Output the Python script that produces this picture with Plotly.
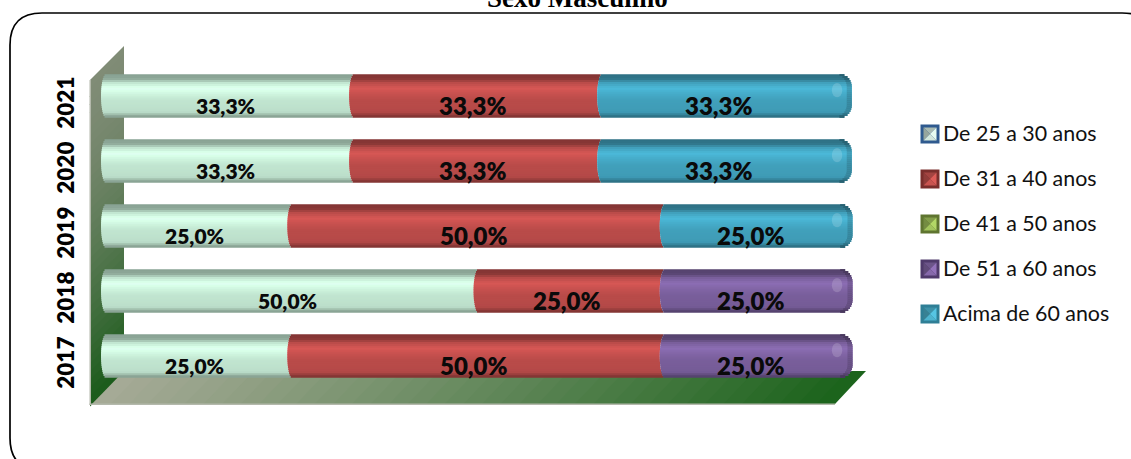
import plotly.graph_objects as go
import math

W, H = 1131, 459
years = ["2017", "2018", "2019", "2020", "2021"]
names = ["De 25 a 30 anos", "De 31 a 40 anos", "De 41 a 50 anos", "De 51 a 60 anos", "Acima de 60 anos"]
s1 = [25.0, 50.0, 25.0, 33.3, 33.3]
s2 = [50.0, 25.0, 50.0, 33.3, 33.3]
s3 = [0, 0, 0, 0, 0]
s4 = [25.0, 25.0, 0, 0, 0]
s5 = [0, 0, 25.0, 33.3, 33.3]
series = [s1, s2, s3, s4, s5]
bar_colors = ["#ccf2dc", "#c4504e", "#9bbb59", "#8064a4", "#45a9c6"]
swatch_colors = ["#c9dcd2", "#c0504d", "#9bbb59", "#8064a2", "#4bacc6"]
swatch_edges = ["#2f5a8f", "#7a2e2c", "#5f7530", "#4f3a6b", "#2f7f96"]
label_sizes = [21, 24, 24, 24, 24]
label_xshift = [0, 0, 0, -2, -2]

X0, XPX = 101, 7.45          # pixel of 0 %, pixels per 1 %
Y_2017, Y_PITCH = 356, 65    # pixel of centre of first bar, pixels between bars
DOM_L, DOM_R, DOM_T, DOM_B = 101, 870, 40, 400
BAR_PX = 43
def px(x): return x / W
def py(y): return 1 - y / H

fig = go.Figure()

def shade(col, f):
    r, g, b = int(col[1:3], 16), int(col[3:5], 16), int(col[5:7], 16)
    return f"rgb({min(255, int(r * f))},{min(255, int(g * f))},{min(255, int(b * f))})"

def profile(t):
    pts = [(0, .72), (.03, .66), (.12, .72), (.2, .95), (.33, 1.1), (.45, 1.02), (.6, .95), (.88, .92), (.93, .8), (1, .62)]
    for (a, fa), (b, fb) in zip(pts, pts[1:]):
        if a <= t <= b:
            return fa + (fb - fa) * (t - a) / (b - a)
    return 1

N = 22
for si, vals in enumerate(series):
    bases = [sum(series[k][i] for k in range(si)) for i in range(5)]
    last = [vals[i] > 0 and all(series[j][i] == 0 for j in range(si + 1, 5)) for i in range(5)]
    for b in range(N):
        t = (b + .5) / N
        k = 5 * (1 - math.sqrt(max(0, 1 - (2 * t - 1) ** 2))) / XPX
        u = max(0, (abs(2 * t - 1) - .42) / .58)
        cap_end = (6.5 - 12 * (1 - math.sqrt(max(0, 1 - u ** 2)))) / XPX
        width = (BAR_PX / N + .7) / Y_PITCH
        offset = (t - .5) * -BAR_PX / Y_PITCH - width / 2
        xs, basex = [], []
        for i in range(5):
            end = vals[i] + (cap_end if last[i] else k)
            xs.append(end - k if vals[i] > 0 else 0)
            basex.append(bases[i] + k)
        color = shade(bar_colors[si], profile(t))
        fig.add_trace(go.Bar(y=years, x=xs, base=basex, orientation="h", width=width, offset=offset,
                             marker=dict(color=color, line_width=0), showlegend=False, hoverinfo="skip", name=names[si]))
        if any(last):
            # darker rim on the rounded end of the stack
            rim = 5 / XPX
            fig.add_trace(go.Bar(
                y=years,
                x=[rim if last[i] else 0 for i in range(5)],
                base=[bases[i] + vals[i] + cap_end - rim for i in range(5)],
                orientation="h", width=width, offset=offset,
                marker=dict(color=shade(bar_colors[si], profile(t) * .85), line_width=0),
                showlegend=False, hoverinfo="skip", name=names[si]))

shapes = []
def poly(pts, color, layer="below"):
    d = "M" + " L".join(f"{px(x):.5f},{py(y):.5f}" for x, y in pts) + " Z"
    shapes.append(dict(type="path", xref="paper", yref="paper", path=d, fillcolor=color, line_width=0, layer=layer))

def mix(a, b, t):
    return "rgb(%d,%d,%d)" % tuple(a[i] + (b[i] - a[i]) * t for i in range(3))

DARK = (28, 92, 28)
n = 40
# back wall (left), graded top to bottom
for i in range(n):
    a, b = i / n, (i + 1.3) / n
    t = i / (n - 1)
    poly([(90, 80 + 324 * a), (124, 46 + 325 * a), (124, 46 + 325 * b), (90, 80 + 324 * b)],
         mix((128, 140, 118), DARK, min(1, t ** 1.5)))
# floor, graded left to right
for i in range(n):
    a, b = i / n, min(1, (i + 1.3) / n)
    t = i / (n - 1)
    poly([(92 + 743 * a, 404), (124 + 742 * a, 371), (124 + 742 * b, 371), (92 + 743 * b, 404)],
         mix((165, 170, 150), (28, 100, 28), t ** 1.1))
# thin pale edges of wall and floor
poly([(89.5, 80), (91, 80), (91, 405), (89.5, 405)], "#b4b9ac")
poly([(89.5, 403.5), (835, 403.5), (835, 405), (89.5, 405)], "#b4b9ac")

# outer rounded frame, cut by the window on the right and at the bottom
R = 32
fx0, fy0, fx1, fy1 = 10, 13, 1154, 470
frame = (f"M{px(fx1 - R)},{py(fy1)} L{px(fx0 + R)},{py(fy1)} Q{px(fx0)},{py(fy1)} {px(fx0)},{py(fy1 - R)} "
         f"L{px(fx0)},{py(fy0 + R)} Q{px(fx0)},{py(fy0)} {px(fx0 + R)},{py(fy0)} "
         f"L{px(fx1 - R)},{py(fy0)} Q{px(fx1)},{py(fy0)} {px(fx1)},{py(fy0 + R)}")
shapes.append(dict(type="path", xref="paper", yref="paper", path=frame, line=dict(color="#000", width=1.7), layer="below"))

annotations = []
# legend swatches and texts
for i, name in enumerate(names):
    yc = 134 + 45 * i
    xc = 930
    h, m = 9.5, 6.5
    poly([(xc - h, yc - h), (xc + h, yc - h), (xc + h, yc + h), (xc - h, yc + h)], swatch_edges[i], "above")
    poly([(xc - m, yc - m), (xc + m, yc - m), (xc, yc)], shade(swatch_colors[i], .85), "above")
    poly([(xc - m, yc - m), (xc, yc), (xc - m, yc + m)], shade(swatch_colors[i], .75), "above")
    poly([(xc + m, yc - m), (xc + m, yc + m), (xc, yc)], shade(swatch_colors[i], 1.15), "above")
    poly([(xc - m, yc + m), (xc + m, yc + m), (xc, yc)], shade(swatch_colors[i], 1.05), "above")
    annotations.append(dict(xref="paper", yref="paper", x=px(941), y=py(yc - 1), text=name, showarrow=False,
                            xanchor="left", yanchor="middle", font=dict(family="Lato", size=21.4, color="#111")))

# data labels
for si, vals in enumerate(series):
    for i, v in enumerate(vals):
        if v > 0:
            base = sum(series[k][i] for k in range(si))
            txt = f"{v:.1f}".replace(".", ",") + "%"
            annotations.append(dict(xref="x", yref="y", x=base + v / 2, y=i, text=txt, showarrow=False,
                                    yshift=-9, xshift=label_xshift[si],
                                    font=dict(family="Lato", size=label_sizes[si], color="#0a0a0a", weight=800)))
# soft highlights on the rounded ends
for i in range(5):
    xe = 100 - 1.2
    shapes.append(dict(type="circle", xref="x", yref="y", x0=xe - .7, x1=xe + .7, y0=i - .02, y1=i + .2,
                       fillcolor="white", opacity=.16, line_width=0, layer="above"))

annotations.append(dict(xref="paper", yref="paper", x=px(577), y=py(15), text="<b>Sexo Masculino</b>", showarrow=False,
                        font=dict(family="Liberation Serif", size=27, color="#000"), yanchor="bottom"))

x_range = [(DOM_L - X0) / XPX, (DOM_R - X0) / XPX]
y_lo = (Y_2017 - DOM_B) / Y_PITCH
y_hi = (Y_2017 - DOM_T) / Y_PITCH

fig.update_layout(
    width=W, height=H, margin=dict(l=0, r=0, t=0, b=0),
    paper_bgcolor="white", plot_bgcolor="rgba(0,0,0,0)",
    barmode="overlay", showlegend=False,
    shapes=shapes, annotations=annotations,
    xaxis=dict(domain=[px(DOM_L), px(DOM_R)], range=x_range, visible=False, fixedrange=True),
    yaxis=dict(domain=[py(DOM_B), py(DOM_T)], range=[y_lo, y_hi], type="category", categoryorder="array", categoryarray=years,
               showgrid=False, showline=False, zeroline=False, ticks="", tickangle=-90,
               ticklabelstandoff=22, ticklabelshift=10,
               tickfont=dict(family="Lato", size=22.5, color="#000", weight=800), fixedrange=True),
)
fig.write_html("out.html", post_script="document.body.style.margin='0';", config={"displayModeBar": False})
